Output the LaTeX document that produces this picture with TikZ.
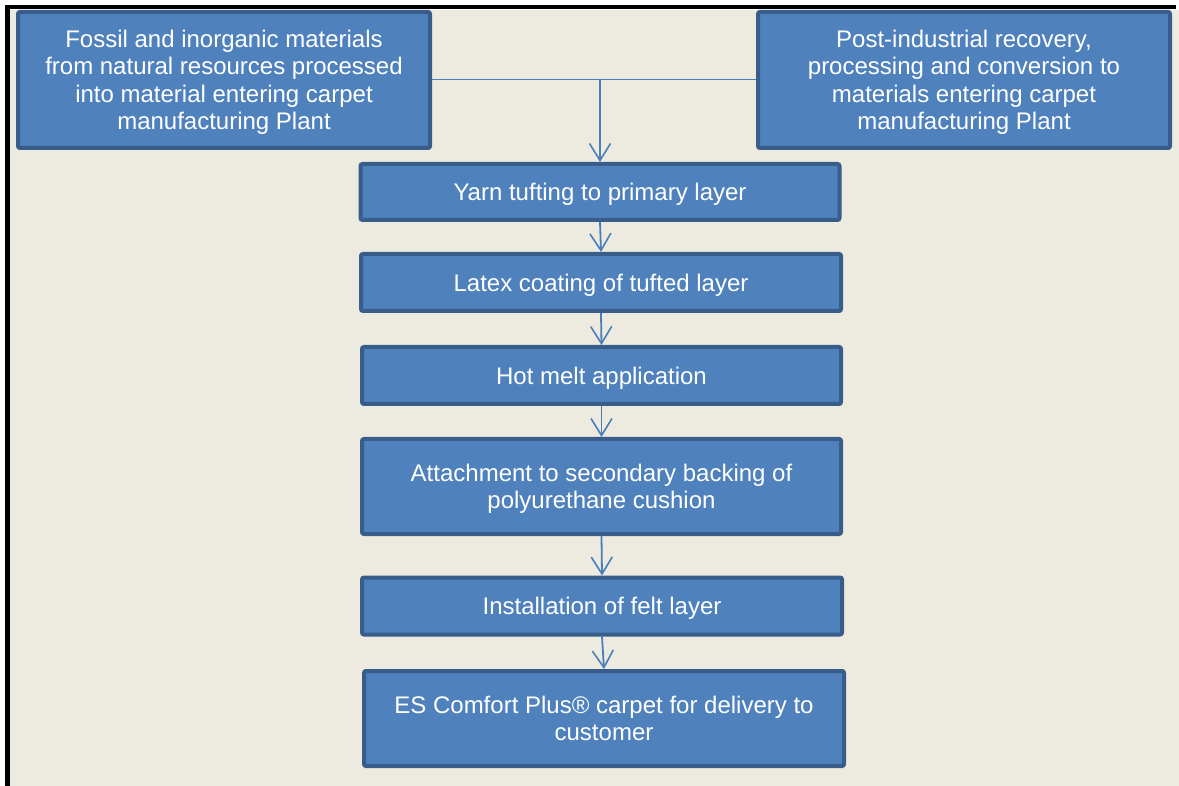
\documentclass[tikz,border=0pt]{standalone}
\usepackage{fontspec}
\setmainfont{Liberation Sans}
\usetikzlibrary{arrows.meta}
\definecolor{bg}{HTML}{EDEBE0}
\definecolor{boxfill}{HTML}{4F81BD}
\definecolor{boxline}{HTML}{385D8A}
\definecolor{conn}{HTML}{4A7EBB}
\tikzset{
  box/.style={draw=boxline, fill=boxfill, line width=4pt, rounded corners=2pt,
    text=white, align=center, inner sep=0pt, text depth=0pt,
    font=\fontsize{24pt}{27.5pt}\selectfont},
  conline/.style={draw=conn, line width=1.8pt},
  conarrow/.style={conline, -{Straight Barb[length=17pt,width=21pt,line width=1.6pt]}}
}
\begin{document}
\begin{tikzpicture}[x=1pt,y=-1pt]
\useasboundingbox (0,0) rectangle (1179,786);
\fill[white] (0,0) rectangle (1179,786);
\fill[bg] (10,10) rectangle (1179,786);
\fill[black] (5,5) rectangle (1176,9.5);
\fill[black] (5,5) rectangle (10,786);

\node[box, minimum width=412pt, minimum height=136pt] (b1) at (224,80)
  {Fossil and inorganic materials\\from natural resources processed\\into material entering carpet\\manufacturing Plant};
\node[box, minimum width=412pt, minimum height=136pt] (b2) at (964,80)
  {Post-industrial recovery,\\processing and conversion to\\materials entering carpet\\manufacturing Plant};
\node[box, minimum width=479pt, minimum height=56pt] (b3) at (600,192)
  {Yarn tufting to primary layer};
\node[box, minimum width=480pt, minimum height=57pt] (b4) at (601,282.5)
  {Latex coating of tufted layer};
\node[box, minimum width=479pt, minimum height=57pt] (b5) at (601.5,375.5)
  {Hot melt application};
\node[box, minimum width=479pt, minimum height=95pt] (b6) at (601.5,486.5)
  {Attachment to secondary backing of\\polyurethane cushion};
\node[box, minimum width=480pt, minimum height=57pt] (b7) at (602,606)
  {Installation of felt layer};
\node[box, minimum width=480pt, minimum height=95pt] (b8) at (604,718.5)
  {ES Comfort Plus® carpet for delivery to\\customer};

\coordinate (j) at (600,79.5);
\draw[conline] (b1.east |- j) -- (b2.west |- j);
\draw[conarrow] (j) -- (b3.north);
\draw[conarrow] (b3.south) -- (b4.north);
\draw[conarrow] (b4.south) -- (b5.north);
\draw[conarrow] (b5.south) -- (b6.north);
\draw[conarrow] (b6.south) -- (b7.north);
\draw[conarrow] (b7.south) -- (b8.north);
\end{tikzpicture}
\end{document}
